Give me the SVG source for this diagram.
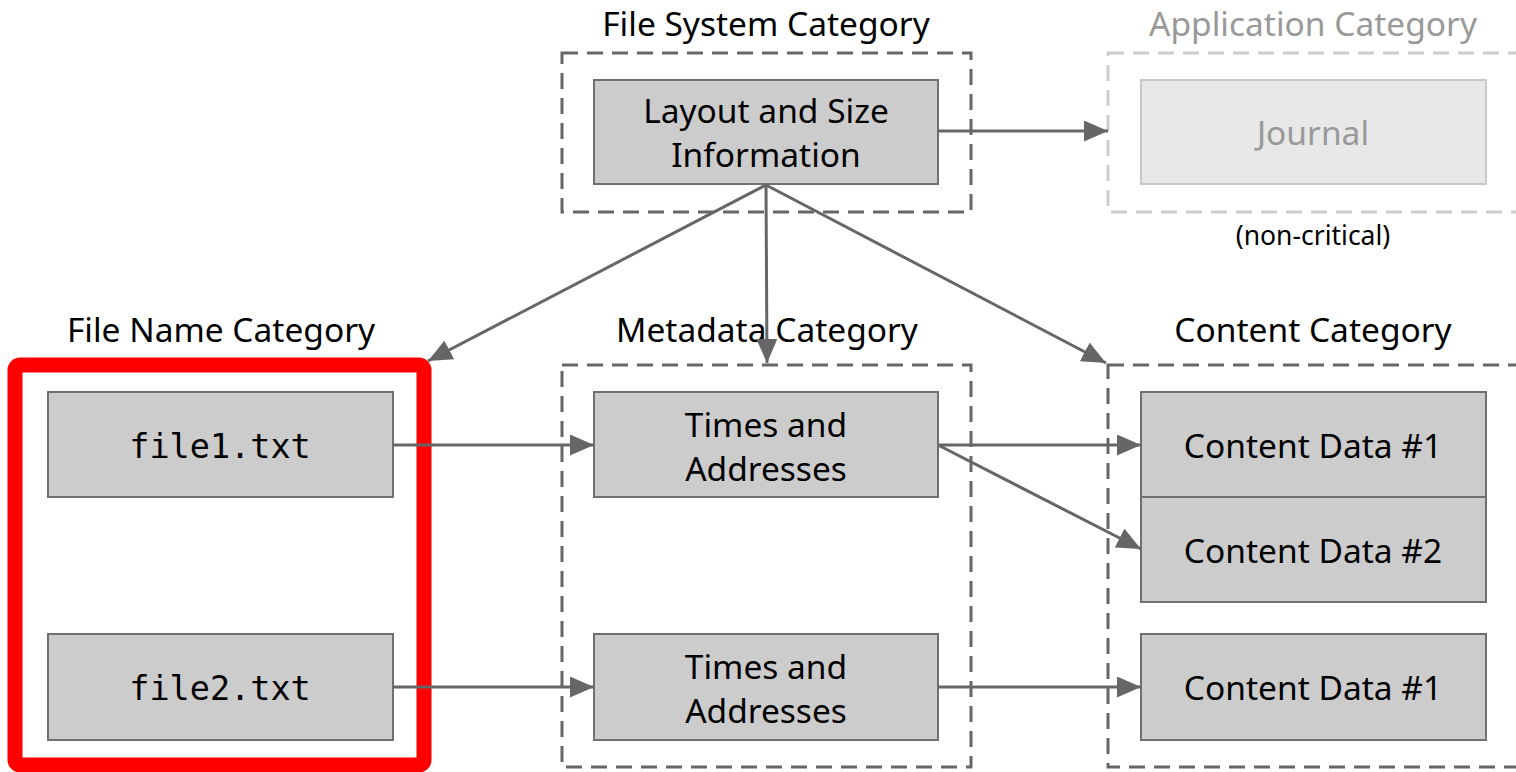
<svg xmlns="http://www.w3.org/2000/svg" width="1516" height="772" viewBox="0 0 1516 772">
<style>
.t{font-family:"Noto Sans","Open Sans",sans-serif;font-size:33.5px;fill:#000;text-anchor:middle}
.m{font-family:"DejaVu Sans Mono","Liberation Mono",monospace;font-size:33.5px;fill:#000;text-anchor:middle}
.box{fill:#cccccc;stroke:#707070;stroke-width:2}
.dash{fill:none;stroke:#666;stroke-width:3;stroke-dasharray:16 9}
.dashl{fill:none;stroke:#cccccc;stroke-width:3;stroke-dasharray:16 9}
.c{stroke:#666;stroke-width:3;fill:none;marker-end:url(#ah)}
</style>
<defs>
<marker id="ah" viewBox="0 0 10 10" refX="10" refY="5" markerWidth="8" markerHeight="7" markerUnits="strokeWidth" orient="auto" preserveAspectRatio="none">
<path d="M0,0 L10,5 L0,10 z" fill="#666"/>
</marker>
</defs>
<rect width="1516" height="772" fill="#fff"/>

<g id="fs-category">
<rect class="dash" x="562" y="53" width="409" height="159"/>
<text class="t" x="766" y="36">File System Category</text>
</g>
<g id="layout">
<rect class="box" x="594" y="80" width="344" height="104"/>
<text class="t" x="766" y="123">Layout and Size</text>
<text class="t" x="766" y="167">Information</text>
</g>

<g id="app-category">
<rect class="dashl" x="1108" y="53" width="430" height="159"/>
<text class="t" x="1313" y="36" style="fill:#999">Application Category</text>
<text class="t" x="1313" y="245" style="font-size:26.5px">(non-critical)</text>
</g>
<g id="journal">
<rect x="1141" y="80" width="345" height="104" fill="#e8e8e8" stroke="#c8c8c8" stroke-width="2"/>
<text class="t" x="1313" y="145" style="fill:#999">Journal</text>
</g>

<g id="filename-category">
<rect x="15" y="365" width="409" height="400" rx="5" fill="none" stroke="#ff0000" stroke-width="15"/>
<text class="t" x="221" y="342">File Name Category</text>
</g>
<g id="file1">
<rect class="box" x="48" y="392" width="345" height="105"/>
<text class="m" x="220" y="458">file1.txt</text>
</g>
<g id="file2">
<rect class="box" x="48" y="634" width="345" height="106"/>
<text class="m" x="220" y="700">file2.txt</text>
</g>

<g id="metadata-category">
<rect class="dash" x="562" y="365" width="409" height="402"/>
<text class="t" x="767" y="342">Metadata Category</text>
</g>
<g id="times1">
<rect class="box" x="594" y="392" width="344" height="105"/>
<text class="t" x="766" y="437">Times and</text>
<text class="t" x="766" y="481">Addresses</text>
</g>
<g id="times2">
<rect class="box" x="594" y="634" width="344" height="106"/>
<text class="t" x="766" y="679">Times and</text>
<text class="t" x="766" y="723">Addresses</text>
</g>

<g id="content-category">
<rect class="dash" x="1108" y="365" width="430" height="402"/>
<text class="t" x="1313" y="342">Content Category</text>
</g>
<g id="content1">
<rect class="box" x="1141" y="392" width="345" height="105"/>
<text class="t" x="1313" y="458">Content Data #1</text>
</g>
<g id="content2">
<rect class="box" x="1141" y="497" width="345" height="105"/>
<text class="t" x="1313" y="563">Content Data #2</text>
</g>
<g id="content3">
<rect class="box" x="1141" y="634" width="345" height="106"/>
<text class="t" x="1313" y="700">Content Data #1</text>
</g>

<g id="connectors">
<line class="c" x1="938" y1="131" x2="1108" y2="131"/>
<line class="c" x1="766" y1="185" x2="428" y2="361"/>
<line class="c" x1="766" y1="185" x2="767" y2="363"/>
<line class="c" x1="766" y1="185" x2="1106" y2="363"/>
<line class="c" x1="393" y1="445" x2="594" y2="445"/>
<line class="c" x1="938" y1="445" x2="1141" y2="445"/>
<line class="c" x1="938" y1="445" x2="1141" y2="549"/>
<line class="c" x1="393" y1="687" x2="594" y2="687"/>
<line class="c" x1="938" y1="687" x2="1141" y2="687"/>
</g>
</svg>
